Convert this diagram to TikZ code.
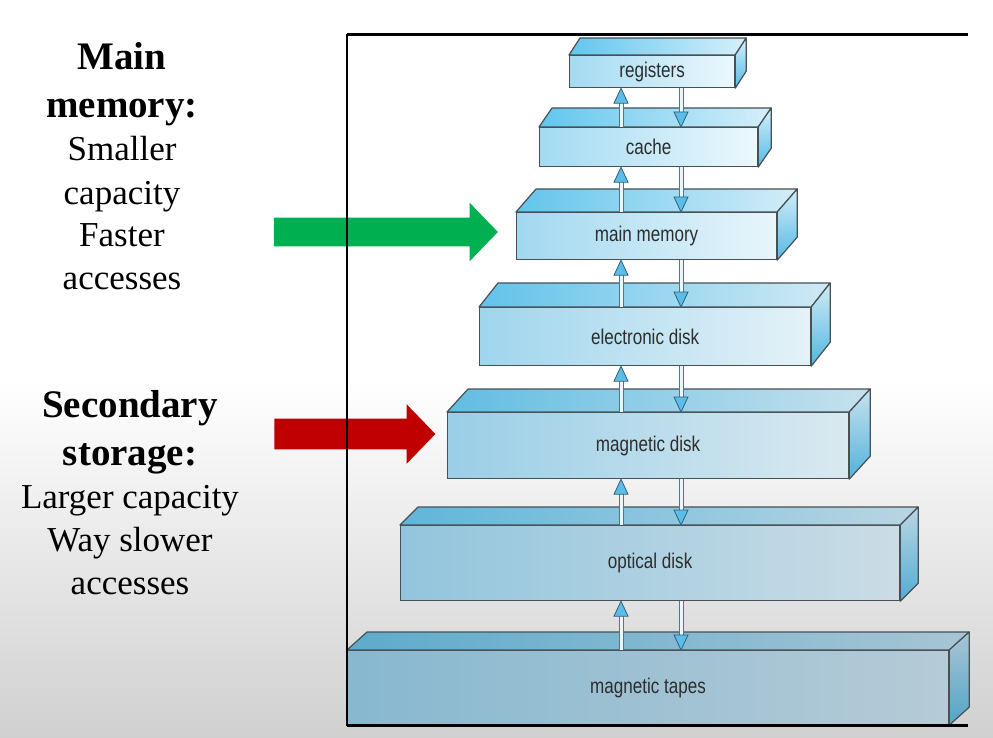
\documentclass[tikz,border=0pt]{standalone}
\usepackage{fontspec}
\setmainfont{Liberation Serif}
\newfontfamily\boxfont[FakeStretch=0.8]{Liberation Sans}
\usetikzlibrary{calc,positioning,shapes.arrows}

\newdimen\pxu \pxu=0.75pt

\definecolor{frontL}{RGB}{163,218,242}
\definecolor{frontR}{RGB}{236,248,253}
\definecolor{topL}{RGB}{98,198,238}
\definecolor{topR}{RGB}{214,239,249}
\definecolor{sideT}{RGB}{215,240,250}
\definecolor{sideB}{RGB}{82,186,230}
\definecolor{haze}{RGB}{85,123,146}
\definecolor{boxedge}{RGB}{70,80,85}
\definecolor{labelgray}{RGB}{45,45,45}
\definecolor{shaftedge}{RGB}{80,120,140}
\definecolor{shaftwhite}{RGB}{236,246,250}
\definecolor{headblue}{RGB}{90,190,232}
\definecolor{headedge}{RGB}{50,95,120}
\definecolor{ptrgreen}{RGB}{0,176,80}
\definecolor{ptrred}{RGB}{192,0,0}
\definecolor{bggray}{RGB}{208,208,208}

% top and right face of a storage level: node, dx, dy, tint
\newcommand\boxfaces[4]{%
  \shadedraw[left color=topL!#4!haze, right color=topR!#4!haze, draw=boxedge, line width=0.9pt, line join=round]
    (#1.north west) -- ++(#2,#3) -- ($(#1.north east)+(#2,#3)$) -- (#1.north east) -- cycle;
  \shadedraw[top color=sideT!#4!haze, bottom color=sideB!#4!haze, draw=boxedge, line width=0.9pt, line join=round]
    (#1.north east) -- ++(#2,#3) -- ($(#1.south east)+(#2,#3)$) -- (#1.south east) -- cycle;}

% transfer arrows between two levels
\newcommand\uplink[2]{%
  \draw[linkshaft] (#1.north -| upcol) -- (#2.south -| upcol);
  \draw[linkhead] (#2.south -| upcol) -- ++(-7,15) -- ++(14,0) -- cycle;}
\newcommand\downlink[2]{%
  \draw[linkshaft] (#1.south -| downcol) -- (#2.north -| downcol);
  \draw[linkhead] (#2.north -| downcol) -- ++(-7,-15) -- ++(14,0) -- cycle;}

\begin{document}
\begin{tikzpicture}[x=0.75pt,y=-0.75pt,
    tier/.style={draw=boxedge, line width=0.9pt, inner sep=0pt, anchor=north west,
      left color=frontL!#1!haze, right color=frontR!#1!haze, text=labelgray,
      font=\boxfont\fontsize{16pt}{18pt}\selectfont},
    linkshaft/.style={draw=shaftedge, line width=0.75pt, double=shaftwhite, double distance=2.25pt, shorten >=10.5pt},
    linkhead/.style={fill=headblue, draw=headedge, line width=0.6pt, line join=miter},
    headline/.style={align=center, inner sep=0pt, font=\bfseries\fontsize{29.25pt}{36pt}\selectfont},
    bodytext/.style={align=center, inner sep=0pt, font=\fontsize{26.25pt}{32.25pt}\selectfont},
    pointer/.style={single arrow, minimum width=0pt, inner xsep=0pt, single arrow tip angle=92}]
  \useasboundingbox (0,0) rectangle (993,738);
  \fill[white] (0,0) rectangle (993,738);
  \shade[top color=white, bottom color=bggray] (0,380) rectangle (993,738);

  % left hand notes
  \node[headline, anchor=base] (mainhead) at (122,118) {Main\\memory:};
  \node[bodytext, anchor=base] (mainbody) at (122,290) {Smaller\\capacity\\Faster\\accesses};
  \node[headline, anchor=base] (sechead) at (130,465) {Secondary\\storage:};
  \node[bodytext, anchor=base] (secbody) at (130,594) {Larger capacity\\Way slower\\accesses};

  \node[pointer, fill=ptrgreen, minimum height=224\pxu, inner ysep=14\pxu, single arrow head extend=15\pxu] (mainptr) at (379,232) {};
  \node[pointer, fill=ptrred, minimum height=161\pxu, inner ysep=15\pxu, single arrow head extend=14.5\pxu] (secptr) at (347.5,434) {};

  % the hierarchy
  \coordinate (upcol) at (621,0);
  \coordinate (downcol) at (681,0);

  \node[tier=100, minimum width=165\pxu, minimum height=32\pxu] (registers) at (569,55) {registers};
  \boxfaces{registers}{11}{-17}{100}
  \node[tier=100, minimum width=218\pxu, minimum height=39\pxu] (cache) at (539,127) {cache};
  \boxfaces{cache}{13}{-19}{100}
  \node[tier=98, minimum width=260\pxu, minimum height=47\pxu] (mainmem) at (516,212) {main memory};
  \boxfaces{mainmem}{20}{-23}{98}
  \node[tier=95, minimum width=331\pxu, minimum height=58\pxu] (edisk) at (479,307) {electronic disk};
  \boxfaces{edisk}{19}{-24}{95}
  \node[tier=88, minimum width=401\pxu, minimum height=66\pxu] (mdisk) at (447,412) {magnetic disk};
  \boxfaces{mdisk}{21}{-23}{88}
  \node[tier=78, minimum width=499\pxu, minimum height=75\pxu] (odisk) at (400,525) {optical disk};
  \boxfaces{odisk}{18}{-18}{78}
  \node[tier=64, minimum width=601\pxu, minimum height=74\pxu] (tapes) at (347,650) {magnetic tapes};
  \boxfaces{tapes}{20}{-18}{64}

  \uplink{cache}{registers}   \downlink{registers}{cache}
  \uplink{mainmem}{cache}     \downlink{cache}{mainmem}
  \uplink{edisk}{mainmem}     \downlink{mainmem}{edisk}
  \uplink{mdisk}{edisk}       \downlink{edisk}{mdisk}
  \uplink{odisk}{mdisk}       \downlink{mdisk}{odisk}
  \uplink{tapes}{odisk}       \downlink{odisk}{tapes}

  % frame
  \draw[line width=2.25pt] (968,35) -- (347,35);
  \draw[line width=1.2pt] (347,34) -- (347,726);
  \draw[line width=2.25pt] (347,725) -- (968,725);
\end{tikzpicture}
\end{document}
